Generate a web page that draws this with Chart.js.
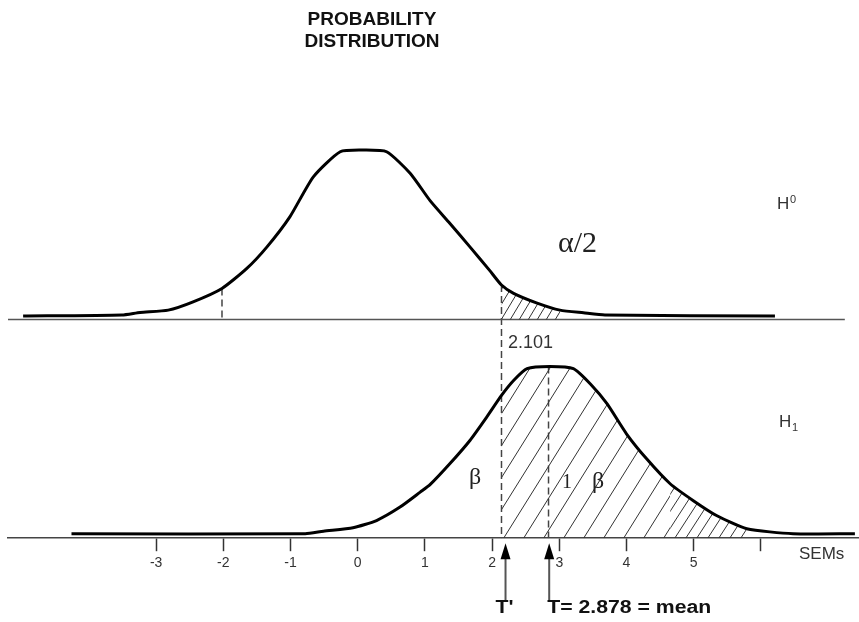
<!DOCTYPE html>
<html>
<head>
<meta charset="utf-8">
<script src="https://cdn.jsdelivr.net/npm/chart.js@4"></script>
<style>
  html, body { margin: 0; padding: 0; background: #fff; }
  #wrap { width: 859px; height: 622px; position: relative; }
</style>
</head>
<body>
<div id="wrap"><canvas id="myChart"></canvas></div>
<script>
// axis ticks (SEMs)
const tickValues = [-3, -2, -1, 0, 1, 2, 3, 4, 5, 6]
const tickLabels = ['-3', '-2', '-1', '0', '1', '2', '3', '4', '5', '']

// H0 curve (relative height, peak = 1)
const h0X = [-4.98, -3.51, -3.24, -2.82, -2.45, -2.02, -1.65, -1.35, -1.01, -0.66, -0.26, 0.08, 0.43, 0.78, 1.08, 1.37, 1.67, 1.96, 2.14, 2.32, 2.66, 3.01, 3.36, 3.68, 6.21]
const h0Y = [0.021, 0.027, 0.042, 0.056, 0.105, 0.184, 0.302, 0.429, 0.606, 0.842, 0.990, 1.0, 0.990, 0.863, 0.700, 0.568, 0.429, 0.292, 0.204, 0.155, 0.099, 0.056, 0.040, 0.027, 0.021]

// H1 curve
const h1X = [-4.26, -0.78, -0.51, -0.07, 0.28, 0.63, 0.93, 1.08, 1.37, 1.67, 1.92, 2.14, 2.32, 2.52, 2.86, 3.21, 3.46, 3.71, 4.00, 4.30, 4.65, 4.99, 5.34, 5.79, 6.48, 7.40]
const h1Y = [0.026, 0.026, 0.041, 0.061, 0.103, 0.181, 0.268, 0.313, 0.433, 0.569, 0.705, 0.831, 0.918, 0.987, 1.0, 0.987, 0.899, 0.783, 0.608, 0.462, 0.317, 0.220, 0.132, 0.055, 0.026, 0.026]

const critX = 2.14          // dashed line marked 2.101
const leftCritX = -2.02
const meanX = 2.84
const meanTop = 1.0
const upperHatchEnd = 3.01
const lowerHatchSplit = 4.65
const lowerHatchEnd = 5.79
const arrowX = [2.20, 2.85]
const arrowLabels = ["T'", 'T= 2.878 = mean']

// scale ranges
const X_MIN = -5.205, X_MAX = 7.461
const TOP_MIN = -1.289, TOP_MAX = 1.295
const BOT_MIN = 0, BOT_MAX = 2.551

const pts = (xs, ys) => xs.map((x, i) => ({x: x, y: ys[i]}))
const between = (xs, ys, a, b) => pts(xs, ys).filter(p => p.x >= a - 1e-9 && p.x <= b + 1e-9)
const valAt = (xs, ys, v) => ys[xs.indexOf(v)]

const canvas = document.getElementById('myChart')
const ctx0 = canvas.getContext('2d')

function hatch(w, h){
    const c = document.createElement('canvas')
    c.width = w
    c.height = h
    const g = c.getContext('2d')
    g.strokeStyle = '#333'
    g.lineWidth = 1
    for (const dx of [-w, 0, w]) {
        g.beginPath()
        g.moveTo(dx, h)
        g.lineTo(dx + w, 0)
        g.stroke()
    }
    return ctx0.createPattern(c, 'repeat')
}

function label(ctx, txt, px, py, font, sx, color){
    ctx.save()
    ctx.font = font
    ctx.fillStyle = color || '#222'
    ctx.textAlign = 'left'
    ctx.textBaseline = 'alphabetic'
    ctx.translate(px, py)
    ctx.scale(sx || 1, 1)
    ctx.fillText(txt, 0, 0)
    ctx.restore()
}

const SANS = '"Liberation Sans", Arial, sans-serif'
const SERIF = '"Liberation Serif", "Times New Roman", serif'

const notes = {
    id: 'notes',
    afterDatasetsDraw(chart){
        const ctx = chart.ctx
        const area = chart.chartArea
        const x = chart.scales.x, yTop = chart.scales.yTop, yBot = chart.scales.yBot

        // title
        ctx.save()
        ctx.fillStyle = '#111'
        ctx.font = 'bold 19px ' + SANS
        ctx.textAlign = 'center'
        ctx.textBaseline = 'alphabetic'
        ctx.fillText('PROBABILITY', 372, 25)
        ctx.fillText('DISTRIBUTION', 372, 47)
        ctx.restore()

        // in-plot labels
        label(ctx, 'α/2', x.getPixelForValue(2.98), yTop.getPixelForValue(0.398), '30px ' + SERIF)
        label(ctx, 'H', x.getPixelForValue(6.24), yTop.getPixelForValue(0.652), '17px ' + SANS, 1, '#333')
        label(ctx, '0', x.getPixelForValue(6.24) + 13, yTop.getPixelForValue(0.652) - 6, '11px ' + SANS, 1, '#333')
        label(ctx, 'H', x.getPixelForValue(6.27), yBot.getPixelForValue(0.645), '17px ' + SANS, 1, '#333')
        label(ctx, '1', x.getPixelForValue(6.27) + 13, yBot.getPixelForValue(0.645) + 4, '11px ' + SANS, 1, '#333')
        label(ctx, '2.101', x.getPixelForValue(2.237), yTop.getPixelForValue(-0.168), '18px ' + SANS, 1, '#333')
        label(ctx, 'β', x.getPixelForValue(1.656), yBot.getPixelForValue(0.313), '24px ' + SERIF)
        label(ctx, '1', x.getPixelForValue(3.04), yBot.getPixelForValue(0.29), '20px ' + SERIF)
        label(ctx, 'β', x.getPixelForValue(3.487), yBot.getPixelForValue(0.295), '24px ' + SERIF)

        // axis unit
        label(ctx, 'SEMs', 799, area.bottom + 21, '17px ' + SANS, 1, '#333')

        // arrows under the axis
        arrowX.forEach((v, i) => {
            const px = x.getPixelForValue(v)
            ctx.save()
            ctx.strokeStyle = '#555'
            ctx.lineWidth = 2
            ctx.beginPath()
            ctx.moveTo(px, area.bottom + 62)
            ctx.lineTo(px, area.bottom + 18)
            ctx.stroke()
            ctx.fillStyle = '#000'
            ctx.beginPath()
            ctx.moveTo(px, area.bottom + 5)
            ctx.lineTo(px - 5, area.bottom + 21)
            ctx.lineTo(px + 5, area.bottom + 21)
            ctx.closePath()
            ctx.fill()
            ctx.restore()
            const lx = i === 0 ? px - 10 : px - 2
            label(ctx, arrowLabels[i], lx, area.bottom + 75, 'bold 18px ' + SANS, 1.18, '#111')
        })
    }
}

function chartIt(){
    const curve = {borderColor: '#000', borderWidth: 3, pointRadius: 0, tension: 0.2, fill: false}
    const hatchSet = {borderWidth: 0, pointRadius: 0, tension: 0.2, fill: 'origin'}
    const dashed = {borderColor: '#444', borderWidth: 1.5, borderDash: [7, 4], pointRadius: 0, fill: false}

    new Chart(canvas, {
        type: 'line',
        data: {
          datasets: [
            Object.assign({label: 'H0', data: pts(h0X, h0Y), yAxisID: 'yTop'}, curve),
            Object.assign({label: 'H1', data: pts(h1X, h1Y), yAxisID: 'yBot'}, curve),
            Object.assign({label: 'alpha/2', data: between(h0X, h0Y, critX, upperHatchEnd), yAxisID: 'yTop', backgroundColor: hatch(9, 15)}, hatchSet),
            Object.assign({label: '1-beta a', data: between(h1X, h1Y, critX, lowerHatchSplit), yAxisID: 'yBot', backgroundColor: hatch(20, 32)}, hatchSet),
            Object.assign({label: '1-beta b', data: between(h1X, h1Y, lowerHatchSplit, lowerHatchEnd), yAxisID: 'yBot', backgroundColor: hatch(11, 17)}, hatchSet),
            {label: 'H0 base', data: [{x: X_MIN - 0.1, y: 0}, {x: 7.25, y: 0}], yAxisID: 'yTop', borderColor: '#555', borderWidth: 1.5, pointRadius: 0},
            Object.assign({label: '-2', data: [{x: leftCritX, y: valAt(h0X, h0Y, leftCritX)}, {x: leftCritX, y: 0}], yAxisID: 'yTop'}, dashed),
            Object.assign({label: 'crit', data: [{x: critX, y: valAt(h0X, h0Y, critX)}, {x: critX, y: TOP_MIN}], yAxisID: 'yTop'}, dashed),
            Object.assign({label: 'mean', data: [{x: meanX, y: meanTop}, {x: meanX, y: 0}], yAxisID: 'yBot'}, dashed)
          ]
        },
        options: {
          responsive: true,
          maintainAspectRatio: false,
          animation: false,
          layout: {padding: {top: 100, left: 8, right: 0, bottom: 46}},
          plugins: {legend: {display: false}, tooltip: {enabled: false}, title: {display: false}},
          scales: {
            x: {
                type: 'linear',
                min: X_MIN,
                max: X_MAX,
                afterBuildTicks: axis => { axis.ticks = tickValues.map(v => ({value: v})) },
                ticks: {
                    autoSkip: false,
                    maxRotation: 0,
                    padding: 4,
                    color: '#333',
                    font: {family: SANS, size: 14},
                    callback: (value, index) => tickLabels[index]
                },
                grid: {drawOnChartArea: false, tickLength: 13, tickColor: '#333', tickWidth: 1.5},
                border: {display: true, color: '#444', width: 1.5}
            },
            yTop: {type: 'linear', display: false, min: TOP_MIN, max: TOP_MAX},
            yBot: {type: 'linear', display: false, min: BOT_MIN, max: BOT_MAX}
          }
        },
        plugins: [notes]
      })
}

chartIt()
</script>
</body>
</html>
